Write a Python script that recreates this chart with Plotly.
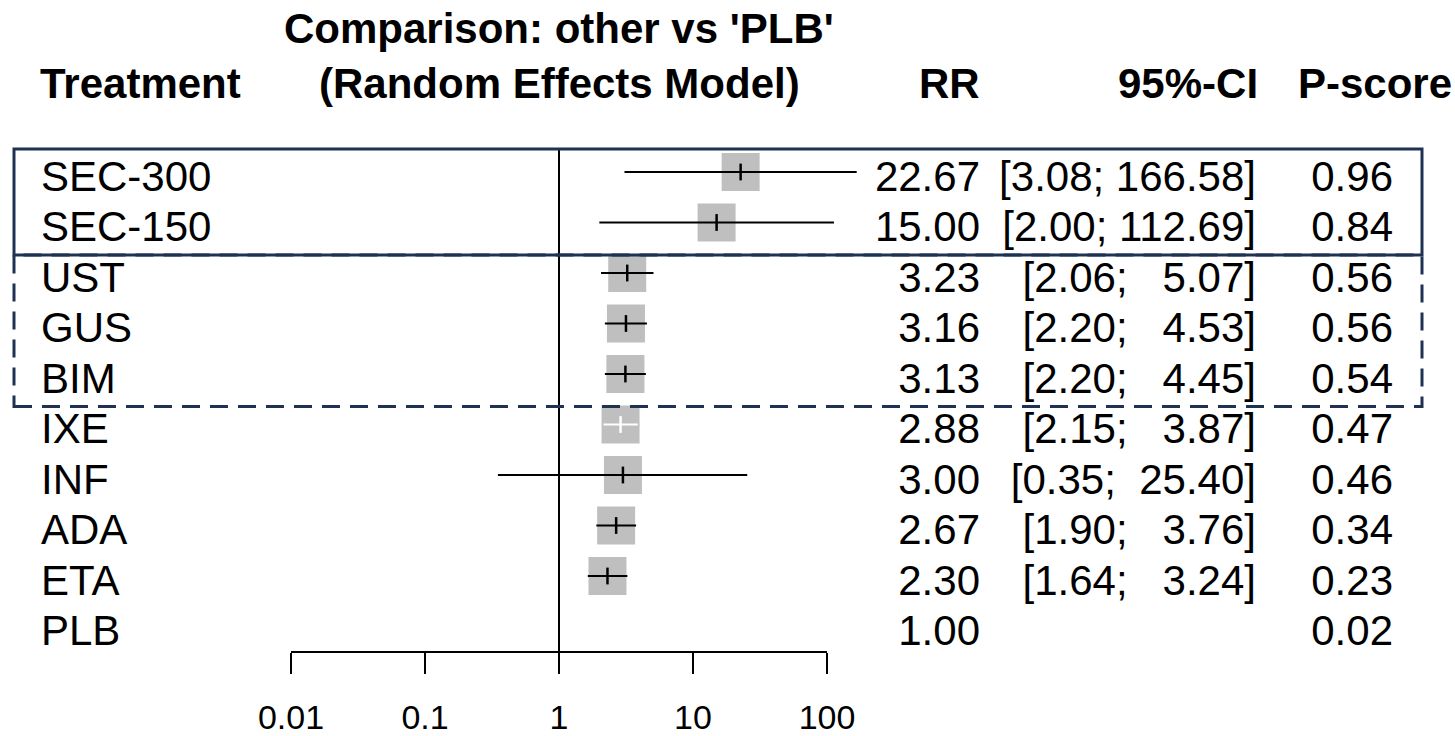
import math
import plotly.graph_objects as go

# ---------------- data ----------------
treatments = ["SEC-300", "SEC-150", "UST", "GUS", "BIM", "IXE", "INF", "ADA", "ETA", "PLB"]
rr = [22.67, 15.00, 3.23, 3.16, 3.13, 2.88, 3.00, 2.67, 2.30, 1.00]
ci_lower = [3.08, 2.00, 2.06, 2.20, 2.20, 2.15, 0.35, 1.90, 1.64, None]
ci_upper = [166.58, 112.69, 5.07, 4.53, 4.45, 3.87, 25.40, 3.76, 3.24, None]
pscore = [0.96, 0.84, 0.56, 0.56, 0.54, 0.47, 0.46, 0.34, 0.23, 0.02]
axis_ticks = [0.01, 0.1, 1, 10, 100]
axis_ticktext = ["0.01", "0.1", "1", "10", "100"]

# ---------------- layout constants (pixels) ----------------
W, H = 1455, 736
X1 = 559          # pixel of RR = 1
DEC = 134         # pixels per decade
ROW0 = 172        # pixel y of first row
ROWH = 50.5       # row spacing
AXIS_Y = 652
BOX_L, BOX_R = 14, 1422
BOX_TOP, BOX_MID, BOX_BOT = 149, 255, 406.5
SQ = 38
NAVY = "#1f3254"
FONT = "Liberation Sans, Arial, sans-serif"
TXT_SHIFT = 0.16  # text centre slightly below row line
FS = 42           # body / header font size

rows = list(range(len(treatments)))
py = lambda p: 1 - p / H   # pixel y -> paper

# ---------------- derived strings ----------------
lo_s = [f"{v:.2f}" if v is not None else "" for v in ci_lower]
up_s = [f"{v:.2f}" if v is not None else "" for v in ci_upper]
wlo = max(len(s) for s in lo_s)
wup = max(len(s) for s in up_s)
ci_text = []
for a, b in zip(lo_s, up_s):
    if a == "":
        ci_text.append("")
    else:
        s = "[" + a.rjust(wlo) + "; " + b.rjust(wup) + "]"
        ci_text.append(s.replace(" ", "\u00a0"))
rr_text = [f"{v:.2f}" for v in rr]
ps_text = [f"{v:.2f}" for v in pscore]

# ---------------- CI line segments ----------------
half = (SQ / 2) / DEC
bx, by, wx, wy = [], [], [], []
tick_x, tick_y, tick_c, sq_x, sq_y = [], [], [], [], []
for i in rows:
    if ci_lower[i] is None:
        continue
    inside = (math.log10(ci_lower[i]) >= math.log10(rr[i]) - half and
              math.log10(ci_upper[i]) <= math.log10(rr[i]) + half)
    if inside:
        wx += [ci_lower[i], ci_upper[i], None]; wy += [i, i, None]
    else:
        bx += [ci_lower[i], ci_upper[i], None]; by += [i, i, None]
    tick_x.append(rr[i]); tick_y.append(i)
    tick_c.append("white" if inside else "black")
    sq_x.append(rr[i]); sq_y.append(i)

fig = go.Figure()
fig.add_trace(go.Scatter(x=sq_x, y=sq_y, mode="markers", xaxis="x", yaxis="y",
                         marker=dict(symbol="square", size=SQ, color="#bfbfbf",
                                     line=dict(width=0)),
                         hoverinfo="skip", showlegend=False))
fig.add_trace(go.Scatter(x=bx, y=by, mode="lines", line=dict(color="black", width=2.2),
                         hoverinfo="skip", showlegend=False))
fig.add_trace(go.Scatter(x=wx, y=wy, mode="lines", line=dict(color="white", width=2.2),
                         hoverinfo="skip", showlegend=False))
fig.add_trace(go.Scatter(x=tick_x, y=tick_y, mode="markers",
                         marker=dict(symbol="line-ns", size=12,
                                     line=dict(width=2.5, color=tick_c)),
                         hoverinfo="skip", showlegend=False))

# visible axis (x2) – dummy trace
fig.add_trace(go.Scatter(x=[0.01, 100], y=[-100, -100], xaxis="x2", yaxis="y",
                         mode="lines", hoverinfo="skip", showlegend=False))

# text columns on pixel axis x3
ty = [i + TXT_SHIFT for i in rows]
tf = dict(family=FONT, size=FS, color="black")
def col(x, texts, pos):
    fig.add_trace(go.Scatter(x=[x] * len(rows), y=ty, text=texts, mode="text",
                             textposition=pos, textfont=tf, xaxis="x3", yaxis="y",
                             cliponaxis=False, hoverinfo="skip", showlegend=False))
col(41, treatments, "middle right")
col(980, rr_text, "middle left")
col(1256, ci_text, "middle left")
col(1393, ps_text, "middle left")

# ---------------- shapes ----------------
shapes = [
    dict(type="line", xref="x", yref="paper", x0=1, x1=1, y0=py(AXIS_Y), y1=py(BOX_TOP),
         line=dict(color="black", width=2)),
    dict(type="rect", xref="paper", yref="paper", x0=BOX_L / W, x1=BOX_R / W,
         y0=py(BOX_BOT), y1=py(BOX_MID), line=dict(color=NAVY, width=3, dash="18px,10px")),
    dict(type="rect", xref="paper", yref="paper", x0=BOX_L / W, x1=BOX_R / W,
         y0=py(BOX_MID), y1=py(BOX_TOP), line=dict(color=NAVY, width=3)),
]

hf = dict(family=FONT, size=FS, color="black")
def hdr(text, x, y, anchor):
    return dict(text="<b>" + text + "</b>", x=x / W, y=py(y), xref="paper", yref="paper",
                xanchor=anchor, yanchor="middle", showarrow=False, font=hf, borderpad=0)

annotations = [
    hdr("Comparison: other vs 'PLB'", 559, 29, "center"),
    hdr("(Random Effects Model)", 559, 84, "center"),
    hdr("Treatment", 39, 84, "left"),
    hdr("RR", 981, 84, "right"),
    hdr("95%-CI", 1259, 84, "right"),
    hdr("P-score", 1453, 84, "right"),
]

fig.update_layout(
    width=W, height=H, margin=dict(l=0, r=0, t=0, b=0, pad=0, autoexpand=False),
    paper_bgcolor="white", plot_bgcolor="rgba(0,0,0,0)",
    xaxis=dict(type="log", range=[-X1 / DEC, (W - X1) / DEC], domain=[0, 1],
               visible=False, fixedrange=True),
    xaxis2=dict(type="log", range=[-2, 2], domain=[(X1 - 2 * DEC) / W, (X1 + 2 * DEC) / W],
                anchor="free", position=py(AXIS_Y), side="bottom",
                showline=True, linecolor="black", linewidth=2,
                ticks="outside", ticklen=21, tickwidth=2, tickcolor="black",
                tickvals=axis_ticks, ticktext=axis_ticktext,
                tickfont=dict(family=FONT, size=34, color="black"),
                ticklabelstandoff=14, showgrid=False, zeroline=False, fixedrange=True),
    xaxis3=dict(range=[0, W], domain=[0, 1], overlaying="x", visible=False, fixedrange=True),
    yaxis=dict(range=[(H - ROW0) / ROWH, -ROW0 / ROWH], domain=[0, 1], visible=False,
               fixedrange=True),
    shapes=shapes, annotations=annotations,
)

fig.write_html("out.html")
